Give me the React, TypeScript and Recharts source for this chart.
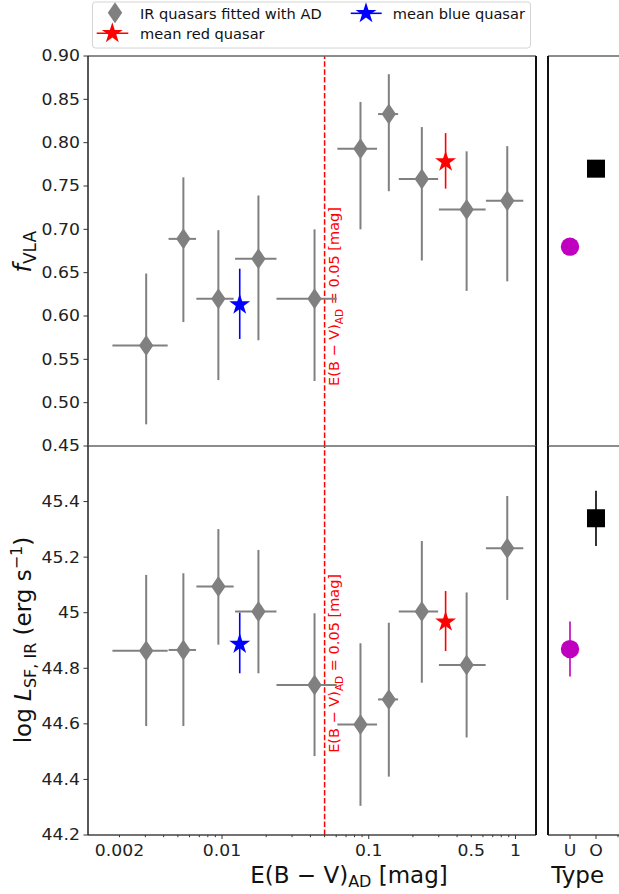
import React from "react";
import { ErrorBar, ReferenceLine, Scatter, ScatterChart, XAxis, YAxis } from "recharts";

const FONT = "'DejaVu Sans', sans-serif";
const GRAY = "#808080";
const TICK_FONT = 15;
const TICK_STRETCH = 1.15;

// E(B-V)_AD bins: centre, lower edge, upper edge
const binEbv = [0.00304, 0.00545, 0.00944, 0.0177, 0.0427, 0.0878, 0.137, 0.23, 0.4645, 0.879];
const binEbvLo = [0.00179, 0.00432, 0.00668, 0.01227, 0.0235, 0.0611, 0.1157, 0.1602, 0.3006, 0.629];
const binEbvHi = [0.00426, 0.00665, 0.012, 0.0235, 0.0605, 0.1139, 0.1585, 0.297, 0.626, 1.13];

// radio detection fraction per bin
const fVla = [0.566, 0.689, 0.62, 0.666, 0.62, 0.793, 0.833, 0.758, 0.723, 0.733];
const fVlaLo = [0.475, 0.593, 0.526, 0.572, 0.525, 0.7, 0.744, 0.664, 0.629, 0.64];
const fVlaHi = [0.649, 0.76, 0.699, 0.739, 0.7, 0.847, 0.879, 0.818, 0.79, 0.796];

// star-formation IR luminosity per bin
const logLsf = [44.863, 44.866, 45.094, 45.004, 44.74, 44.598, 44.688, 45.004, 44.812, 45.232];
const logLsfLo = [44.592, 44.592, 44.885, 44.782, 44.484, 44.305, 44.41, 44.748, 44.551, 45.046];
const logLsfHi = [45.136, 45.142, 45.301, 45.226, 44.998, 44.89, 44.964, 45.258, 45.073, 45.42];

// mean blue / red quasars
const meanNames = ["blue", "red"];
const meanColors = ["#0000ff", "#ff0000"];
const meanEbv = [0.0132, 0.334];
const meanF = [0.613, 0.778];
const meanFLo = [0.5735, 0.747];
const meanFHi = [0.6546, 0.811];
const meanL = [44.887, 44.967];
const meanLLo = [44.782, 44.862];
const meanLHi = [45.0, 45.078];

// right panel: quasar types
const typeLabels = ["U", "O"];
const typeColors = ["#bf00bf", "#000000"];
const typeF = [0.68, 0.77];
const typeL = [44.869, 45.34];
const typeLLo = [44.77, 45.24];
const typeLHi = [44.968, 45.439];

const CUT_EBV = 0.05;

const ebvDomain = [0.00122, 1.38];
const ebvLabelTicks = [0.002, 0.01, 0.1, 0.5, 1];
const ebvLabelText = ["0.002", "0.01", "0.1", "0.5", "1"];
const ebvDecades = [0.01, 0.1, 1];
const ebvMinorTicks = [
  0.003, 0.004, 0.005, 0.006, 0.007, 0.008, 0.009,
  0.02, 0.03, 0.04, 0.05, 0.06, 0.07, 0.08, 0.09,
  0.2, 0.3, 0.4, 0.6, 0.7, 0.8, 0.9,
];
const fDomain = [0.45, 0.9];
const fTicks = [0.45, 0.5, 0.55, 0.6, 0.65, 0.7, 0.75, 0.8, 0.85, 0.9];
const lDomain = [44.2, 45.6];
const lTicks = [44.2, 44.4, 44.6, 44.8, 45.0, 45.2, 45.4];
const typeDomain = [-0.846, 1.885];
const typeTicks = [0, 1, 1.846];

const binRows = binEbv.map((x, i) => ({
  x,
  f: fVla[i],
  l: logLsf[i],
  ex: [x - binEbvLo[i], binEbvHi[i] - x],
  ef: [fVla[i] - fVlaLo[i], fVlaHi[i] - fVla[i]],
  el: [logLsf[i] - logLsfLo[i], logLsfHi[i] - logLsf[i]],
}));

const meanRows = meanNames.map((name, i) => ({
  name,
  x: meanEbv[i],
  f: meanF[i],
  l: meanL[i],
  ef: [meanF[i] - meanFLo[i], meanFHi[i] - meanF[i]],
  el: [meanL[i] - meanLLo[i], meanLHi[i] - meanL[i]],
}));

const typeRows = typeLabels.map((t, i) => ({
  t,
  x: i,
  f: typeF[i],
  l: typeL[i],
  el: [typeL[i] - typeLLo[i], typeLHi[i] - typeL[i]],
}));

function Diamond({ cx, cy }: any) {
  return (
    <polygon
      points={`${cx},${cy - 10.5} ${cx + 7.2},${cy} ${cx},${cy + 10.5} ${cx - 7.2},${cy}`}
      fill={GRAY}
    />
  );
}

function Star({ cx, cy, fill }: any) {
  const pts: string[] = [];
  for (let k = 0; k < 10; k++) {
    const a = -Math.PI / 2 + (k * Math.PI) / 5;
    const r = k % 2 === 0 ? 11 : 11 * 0.382;
    pts.push(`${(cx + r * Math.cos(a)).toFixed(2)},${(cy + r * Math.sin(a)).toFixed(2)}`);
  }
  return <polygon points={pts.join(" ")} fill={fill} />;
}

function TypeMark({ cx, cy, t }: any) {
  if (t === "U") return <circle cx={cx} cy={cy} r={9.2} fill={typeColors[0]} />;
  return <rect x={cx - 9} y={cy - 9} width={18} height={18} fill={typeColors[1]} />;
}

// tick text is a little wider than plain DejaVu in the figure
function TickText({ x, y, anchor, dy, children }: any) {
  return (
    <text
      transform={`translate(${x},${y}) scale(${TICK_STRETCH},1)`}
      dy={dy}
      textAnchor={anchor}
      fontSize={TICK_FONT}
      fontFamily={FONT}
      fill="#222"
    >
      {children}
    </text>
  );
}

function ValueTick({ x, y, payload, fmt }: any) {
  return (
    <g>
      <line x1={x - 4.5} x2={x} y1={y} y2={y} stroke="#333" />
      <TickText x={x - 8} y={y} anchor="end" dy="0.36em">
        {fmt(payload.value)}
      </TickText>
    </g>
  );
}

function EbvTick({ x, y, payload }: any) {
  const v = payload.value;
  const idx = ebvLabelTicks.indexOf(v);
  const big = ebvDecades.includes(v);
  return (
    <g>
      <line x1={x} x2={x} y1={y} y2={y + (big ? 4 : 2.2)} stroke="#333" />
      {idx >= 0 && (
        <TickText x={x} y={y + 21} anchor="middle">
          {ebvLabelText[idx]}
        </TickText>
      )}
    </g>
  );
}

function TypeTick({ x, y, payload }: any) {
  const label = typeLabels[payload.value];
  return (
    <g>
      <line x1={x} x2={x} y1={y} y2={y + (label ? 4 : 2.2)} stroke="#333" />
      {label && (
        <TickText x={x} y={y + 21} anchor="middle">
          {label}
        </TickText>
      )}
    </g>
  );
}

function CutLabel({ viewBox, offsetY }: any) {
  if (!viewBox) return null;
  const x = viewBox.x + 14.7;
  const y = viewBox.y + offsetY;
  return (
    <text transform={`translate(${x},${y}) rotate(-90)`} textAnchor="middle" fontSize={14.5} fontFamily={FONT} fill="#ff0000">
      E(B − V)
      <tspan fontSize={10.5} dy={3.5}>AD</tspan>
      <tspan dy={-3.5}> = 0.05 [mag]</tspan>
    </text>
  );
}

const fmtF = (v: number) => v.toFixed(2);
const fmtL = (v: number) => String(Math.round(v * 10) / 10);

function MainPanel({ yKey, errKey, domain, ticks, fmt, height, marginTop, marginBottom, showX, cutOffset }: any) {
  return (
    <ScatterChart width={560} height={height} margin={{ top: marginTop - 1, right: 23, bottom: marginBottom, left: 0 }}>
      <XAxis
        xAxisId="b"
        dataKey="x"
        type="number"
        scale="log"
        domain={ebvDomain}
        allowDataOverflow
        hide={!showX}
        height={59}
        ticks={[...ebvLabelTicks, ...ebvMinorTicks].sort((a, b) => a - b)}
        interval={0}
        tickSize={0}
        tickMargin={0}
        tickLine={false}
        tick={(p: any) => <EbvTick {...p} />}
        axisLine={{ stroke: "#444", strokeWidth: 1.5 }}
      />
      <XAxis
        xAxisId="t"
        orientation="top"
        type="number"
        domain={[0, 1]}
        height={1}
        tick={false}
        tickLine={false}
        axisLine={{ stroke: "#666", strokeWidth: 1.5 }}
      />
      <YAxis
        yAxisId="l"
        dataKey={yKey}
        type="number"
        domain={domain}
        allowDataOverflow
        ticks={ticks}
        interval={0}
        width={88}
        tickSize={0}
        tickMargin={0}
        tickLine={false}
        tick={(p: any) => <ValueTick {...p} fmt={fmt} />}
        axisLine={{ stroke: "#222", strokeWidth: 1.5 }}
      />
      <YAxis
        yAxisId="r"
        orientation="right"
        type="number"
        domain={[0, 1]}
        width={1}
        tick={false}
        tickLine={false}
        axisLine={{ stroke: "#111", strokeWidth: 2 }}
      />
      <ReferenceLine
        xAxisId="b"
        yAxisId="l"
        x={CUT_EBV}
        stroke="#ff0000"
        strokeWidth={1.5}
        strokeDasharray="5.5 2.4"
        label={<CutLabel offsetY={cutOffset} />}
      />
      <Scatter xAxisId="b" yAxisId="l" data={binRows} isAnimationActive={false} shape={(p: any) => <Diamond cx={p.cx} cy={p.cy} />}>
        <ErrorBar dataKey="ex" direction="x" width={0} stroke={GRAY} strokeWidth={2} />
        <ErrorBar dataKey={errKey} direction="y" width={0} stroke={GRAY} strokeWidth={2} />
      </Scatter>
      {meanRows.map((row, i) => (
        <Scatter
          key={row.name}
          xAxisId="b"
          yAxisId="l"
          data={[row]}
          isAnimationActive={false}
          shape={(p: any) => <Star cx={p.cx} cy={p.cy} fill={meanColors[i]} />}
        >
          <ErrorBar dataKey={errKey} direction="y" width={0} stroke={meanColors[i]} strokeWidth={1.6} />
        </Scatter>
      ))}
    </ScatterChart>
  );
}

function TypePanel({ yKey, errKey, domain, height, marginTop, marginBottom, showX }: any) {
  return (
    <ScatterChart width={79} height={height} margin={{ top: marginTop - 1, right: 0, bottom: marginBottom, left: 7 }}>
      <XAxis
        xAxisId="b"
        dataKey="x"
        type="number"
        domain={typeDomain}
        allowDataOverflow
        hide={!showX}
        height={59}
        ticks={typeTicks}
        interval={0}
        tickSize={0}
        tickMargin={0}
        tickLine={false}
        tick={(p: any) => <TypeTick {...p} />}
        axisLine={{ stroke: "#444", strokeWidth: 1.5 }}
      />
      <XAxis
        xAxisId="t"
        orientation="top"
        type="number"
        domain={[0, 1]}
        height={1}
        tick={false}
        tickLine={false}
        axisLine={{ stroke: "#666", strokeWidth: 1.5 }}
      />
      <YAxis
        yAxisId="l"
        dataKey={yKey}
        type="number"
        domain={domain}
        allowDataOverflow
        width={1}
        tick={false}
        tickLine={false}
        axisLine={{ stroke: "#111", strokeWidth: 2 }}
      />
      {typeRows.map((row, i) => (
        <Scatter
          key={row.t}
          xAxisId="b"
          yAxisId="l"
          data={[row]}
          isAnimationActive={false}
          shape={(p: any) => <TypeMark cx={p.cx} cy={p.cy} t={row.t} />}
        >
          {errKey && <ErrorBar dataKey={errKey} direction="y" width={0} stroke={typeColors[i]} strokeWidth={1.6} />}
        </Scatter>
      ))}
    </ScatterChart>
  );
}

function Overlay() {
  return (
    <svg width={619} height={894} style={{ position: "absolute", left: 0, top: 0, pointerEvents: "none" }}>
      <g fontFamily={FONT} fontSize={14.6} fill="#111">
        <rect x={92.5} y={2} width={438} height={46} rx={3} fill="#fff" stroke="#d4d4d4" />
        <Diamond cx={115} cy={12.7} />
        <text x={140} y={18.8}>IR quasars fitted with AD</text>
        <line x1={350.7} x2={381.7} y1={13.3} y2={13.3} stroke={meanColors[0]} strokeWidth={1.6} />
        <Star cx={366} cy={13.3} fill={meanColors[0]} />
        <text x={392.7} y={18.8}>mean blue quasar</text>
        <line x1={96.7} x2={128.3} y1={33.3} y2={33.3} stroke={meanColors[1]} strokeWidth={1.6} />
        <Star cx={112.3} cy={33.3} fill={meanColors[1]} />
        <text x={140} y={39.2}>mean red quasar</text>
      </g>
      <g fontFamily={FONT} fontSize={23} fill="#111">
        <text transform="translate(31,251.7) rotate(-90)" textAnchor="middle" fontSize={24}>
          <tspan fontStyle="italic">f</tspan>
          <tspan fontSize={17} dy={5}>VLA</tspan>
        </text>
        <text transform="translate(30.8,640) rotate(-90)" textAnchor="middle">
          log <tspan fontStyle="italic">L</tspan>
          <tspan fontSize={16} dy={5}>SF, IR</tspan>
          <tspan dy={-5}> (erg s</tspan>
          <tspan fontSize={16} dy={-9}>−1</tspan>
          <tspan dy={9}>)</tspan>
        </text>
        <text x={349} y={883} textAnchor="middle">
          E(B − V)
          <tspan fontSize={16} dy={4}>AD</tspan>
          <tspan dy={-4}> [mag]</tspan>
        </text>
        <text x={577.7} y={883} textAnchor="middle">Type</text>
      </g>
    </svg>
  );
}

export default function App() {
  return (
    <div style={{ position: "absolute", left: 0, top: 0, width: 619, height: 894, overflow: "hidden", background: "#fff" }}>
      <div style={{ position: "absolute", left: 0, top: 0 }}>
        <MainPanel yKey="f" errKey="ef" domain={fDomain} ticks={fTicks} fmt={fmtF} height={470} marginTop={56} marginBottom={24} showX={false} cutOffset={240.5} />
      </div>
      <div style={{ position: "absolute", left: 0, top: 430 }}>
        <MainPanel yKey="l" errKey="el" domain={lDomain} ticks={lTicks} fmt={fmtL} height={464} marginTop={16} marginBottom={0} showX cutOffset={217.4} />
      </div>
      <div style={{ position: "absolute", left: 540, top: 0 }}>
        <TypePanel yKey="f" domain={fDomain} height={470} marginTop={56} marginBottom={24} showX={false} />
      </div>
      <div style={{ position: "absolute", left: 540, top: 430 }}>
        <TypePanel yKey="l" errKey="el" domain={lDomain} height={464} marginTop={16} marginBottom={0} showX />
      </div>
      <Overlay />
    </div>
  );
}
